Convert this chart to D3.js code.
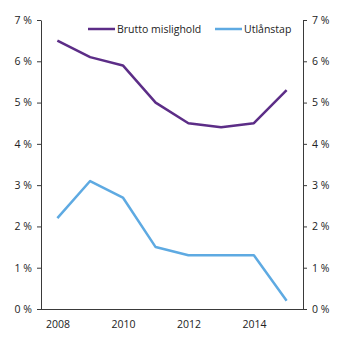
<!DOCTYPE html>
<html>
<head>
<meta charset="utf-8">
<script src="https://cdn.jsdelivr.net/npm/d3@7"></script>
<style>
  html, body { margin: 0; padding: 0; background: #fff; }
  svg { display: block; font-family: "Open Sans", "Noto Sans", sans-serif; }
</style>
</head>
<body>
<svg id="chart" width="345" height="345"></svg>
<script>
// Years on the horizontal axis
const years = [2008, 2009, 2010, 2011, 2012, 2013, 2014, 2015];
// Gross non-performing loans, share of lending (%)
const bruttoMislighold = [6.5, 6.1, 5.9, 5.0, 4.5, 4.4, 4.5, 5.3];
// Loan losses, share of lending (%)
const utlanstap = [2.2, 3.1, 2.7, 1.5, 1.3, 1.3, 1.3, 0.2];
// Axis tick values
const yTicks = [0, 1, 2, 3, 4, 5, 6, 7];
const xTicks = [2008, 2010, 2012, 2014];

const series = [
  { name: "Brutto mislighold", values: bruttoMislighold, color: "#5c2d87" },
  { name: "Utlånstap", values: utlanstap, color: "#5eaae2" }
];

const svg = d3.select("#chart");
const plotLeft = 41, plotRight = 303, plotTop = 20, plotBottom = 309;
const axisColor = "#3a3a3a";

const x = d3.scaleLinear().domain([2007.5, 2015.5]).range([plotLeft, plotRight]);
const y = d3.scaleLinear().domain([0, 7]).range([plotBottom, plotTop]);

const fmt = d => d + " %";

// Left axis
const gl = svg.append("g").attr("transform", `translate(${plotLeft},0)`)
  .call(d3.axisLeft(y).tickValues(yTicks).tickFormat(fmt).tickSize(4).tickSizeOuter(0).tickPadding(5));
// Right axis
const gr = svg.append("g").attr("transform", `translate(${plotRight},0)`)
  .call(d3.axisRight(y).tickValues(yTicks).tickFormat(fmt).tickSize(4).tickSizeOuter(0).tickPadding(5));
// Bottom axis
const gb = svg.append("g").attr("transform", `translate(0,${plotBottom})`)
  .call(d3.axisBottom(x).tickValues(xTicks).tickFormat(d3.format("d")).tickSize(0).tickPadding(12));

[gl, gr, gb].forEach(g => {
  g.selectAll("path, line").attr("stroke", axisColor).attr("stroke-width", 1);
  g.selectAll("text").attr("fill", "#222").attr("font-size", 10.5)
    .attr("font-family", "\"Open Sans\", \"Noto Sans\", sans-serif");
});
gb.select(".domain").attr("d", `M${plotLeft},0.5H${plotRight + 4}`);

// Lines
const line = d3.line().x((d, i) => x(years[i])).y(d => y(d));
series.forEach(s => {
  svg.append("path")
    .datum(s.values)
    .attr("fill", "none")
    .attr("stroke", s.color)
    .attr("stroke-width", 2.5)
    .attr("stroke-linejoin", "round")
    .attr("d", line);
});

// Legend
const legendY = 29;
const legendX = [88, 215];
series.forEach((s, i) => {
  const g = svg.append("g").attr("transform", `translate(${legendX[i]},${legendY})`);
  g.append("line").attr("x1", 0).attr("x2", 27).attr("y1", 0).attr("y2", 0)
    .attr("stroke", s.color).attr("stroke-width", 2.5);
  g.append("text").attr("x", 29).attr("y", 4).attr("font-size", 10.5)
    .attr("fill", "#222").text(s.name);
});
</script>
</body>
</html>
